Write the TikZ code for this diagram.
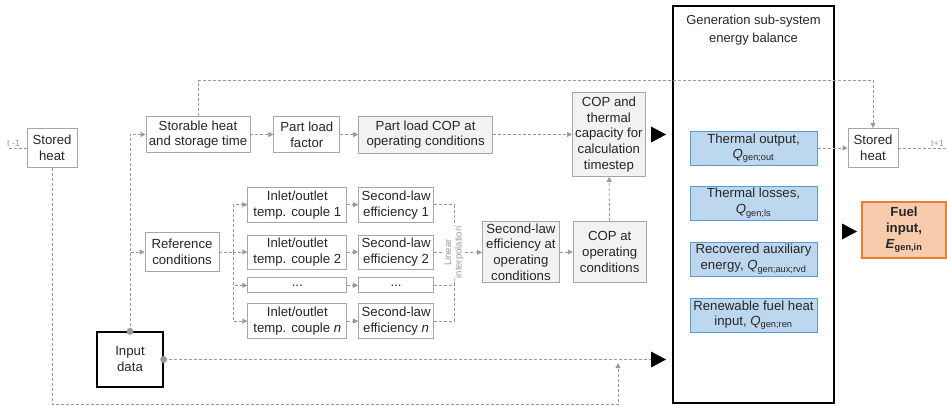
\documentclass[tikz,border=0pt]{standalone}
\usepackage{fontspec}
\setmainfont{Liberation Sans}
\usetikzlibrary{arrows.meta,positioning}

\definecolor{lgray}{HTML}{A6A6A6}
\definecolor{boxgray}{HTML}{F2F2F2}
\definecolor{bluefill}{HTML}{BDD7EE}
\definecolor{blueline}{HTML}{5B9BD5}
\definecolor{orfill}{HTML}{F8CBAD}
\definecolor{orline}{HTML}{ED7D31}
\definecolor{flowgray}{HTML}{9A9A9A}

\newcommand{\Qsub}[1]{\textit{Q}\textsubscript{#1}}

\tikzset{
  box/.style={draw=lgray, line width=0.8pt, fill=white, align=center, inner sep=1pt,
    text=black!85, font=\fontsize{13.2}{15.8}\selectfont},
  greybox/.style={box, fill=boxgray},
  bluebox/.style={box, draw=blueline, fill=bluefill, line width=1pt},
  wh/.style 2 args={minimum width=#1, minimum height=#2},
  dline/.style={draw=flowgray, line width=0.8pt, dash pattern=on 3pt off 2pt},
  flow/.style={dline, -{Triangle[length=5pt,width=5pt]}},
  tlabel/.style={font=\fontsize{9}{10}\selectfont, text=flowgray, inner sep=1pt},
}

\begin{document}
\begin{tikzpicture}[x=1pt, y=-1pt, >=Latex]
        \useasboundingbox (0,0) rectangle (947,405);

        % sub-system energy balance
        \node (gen) [draw, line width=1.3pt, wh={161pt}{397pt}] at (753.5,204.5) {};
        \node (gentitle) [below=6pt of gen.north, align=center, text=black!85,
            font=\fontsize{13}{18}\selectfont] {Generation sub-system\\energy balance};
        \node (thout) [bluebox, wh={127pt}{34pt}] at (753.5,148) {Thermal output,\\\Qsub{gen;out}};
        \node (thls) [bluebox, wh={127pt}{34pt}, below=20pt of thout] {Thermal losses,\\\Qsub{gen;ls}};
        \node (rvd) [bluebox, wh={127pt}{34pt}, below=21pt of thls] {Recovered auxiliary\\energy, \Qsub{gen;aux;rvd}};
        \node (ren) [bluebox, wh={127pt}{34pt}, below=21pt of rvd] {Renewable fuel heat\\input, \Qsub{gen;ren}};

        % first row
        \node (storedL) [box, wh={50pt}{39pt}] at (52,148) {Stored\\heat};
        \node (storable) [box, wh={104pt}{36pt}] at (198,134.5) {Storable heat\\and storage time};
        \node (plf) [box, wh={66pt}{36pt}, right=23pt of storable] {Part load\\factor};
        \node (plcop) [greybox, wh={134pt}{37pt}, right=18pt of plf] {Part load COP at\\operating conditions};
        \node (copt) [greybox, wh={73pt}{84pt}, right=79pt of plcop] {COP and\\thermal\\capacity for\\calculation\\timestep};

        % temperature couples
        \node (ref) [box, wh={74pt}{39pt}] at (182,252) {Reference\\conditions};
        \node (in2) [box, wh={99pt}{34pt}, right=28pt of ref] {Inlet/outlet\\temp. couple 2};
        \node (in1) [box, wh={99pt}{35pt}, above=12pt of in2] {Inlet/outlet\\temp. couple 1};
        \node (indots) [box, wh={99pt}{15pt}, below=8pt of in2] {...};
        \node (inn) [box, wh={99pt}{35pt}, below=10pt of indots] {Inlet/outlet\\temp. couple \textit{n}};
        \node (sl1) [box, wh={75pt}{35pt}, right=11pt of in1] {Second-law\\efficiency 1};
        \node (sl2) [box, wh={75pt}{34pt}, right=11pt of in2] {Second-law\\efficiency 2};
        \node (sldots) [box, wh={75pt}{15pt}, right=11pt of indots] {...};
        \node (sln) [box, wh={75pt}{35pt}, right=11pt of inn] {Second-law\\efficiency \textit{n}};
        \node (slop) [greybox, wh={77pt}{61pt}, right=48pt of sl2] {Second-law\\efficiency at\\operating\\conditions};
        \node (copop) [greybox, wh={73pt}{61pt}, right=13pt of slop] {COP at\\operating\\conditions};

        \node (inp) [draw, line width=1.3pt, align=center, wh={66pt}{55pt}, text=black!85,
            font=\fontsize{13.2}{16}\selectfont] at (130,359.5) {Input\\data};
        \node (storedR) [box, wh={50pt}{39pt}] at (873,148) {Stored\\heat};
        \node (fuel) [box, draw=orline, fill=orfill, line width=1.2pt, wh={84pt}{56pt},
            font=\fontsize{13.2}{15.8}\selectfont\bfseries] at (904,230) {Fuel\\input,\\\textit{E}\textsubscript{gen,in}};

        % calculation chain
        \draw[flow] (storable) -- (plf);
        \draw[flow] (plf) -- (plcop);
        \draw[flow] (plcop) -- (copt);
        \draw[flow] (slop) -- (copop);
        \draw[flow] (copop) -- (copt);

        % reference conditions to each couple
        \draw[dline] (ref.east) -- ++(14,0) coordinate (fan);
        \foreach \n in {1,2,dots,n} \draw[flow] (fan) |- (in\n.west);
        \foreach \n in {1,2,dots,n} \draw[flow] (in\n) -- (sl\n);

        % linear interpolation
        \coordinate (lin) at (454,252.5);
        \foreach \n in {1,dots,n} \draw[dline] (sl\n.east) -| (lin);
        \draw[dline] (sl2.east) -- (sl2.east -| lin);
        \node (interp) [fill=white, rotate=90, align=center, text=flowgray, inner sep=1pt,
            font=\fontsize{9.5}{10.5}\selectfont] at (lin) {Linear\\interpolation};
        \draw[flow] (interp) -- (slop);

        % input data
        \coordinate (tipB) at (651,359.5);
        \coordinate (joinB) at (618,363);
        \draw[flow] (inp.north) |- (storable.west);
        \draw[flow] (inp.north) |- (ref.west);
        \draw[dline] (inp.east) -- (tipB);
        \draw[flow] (storedL.south) -- ++(0,236.5) -| (joinB);
        \fill[flowgray] (inp.north) circle (3.5pt) (inp.east) circle (3.5pt);

        % storage between timesteps
        \draw[dline] (storedL.west) -- ++(-20,0) node[tlabel, pos=0.65, above] {t -1};
        \draw[flow] (storable.north) -- ++(0,-35.5) -| (storedR.north);
        \draw[flow] (thout) -- (storedR);
        \draw[dline] (storedR.east) -- ++(49,0) node[tlabel, pos=0.8, above] {t+1};

        % big arrow heads
        \coordinate (tipA) at (651,134.5);
        \coordinate (tipC) at (842,231.5);
        \foreach \c in {tipA,tipB,tipC} \fill (\c) ++(0,-8) -- ++(15,8) -- ++(-15,8) -- cycle;
\end{tikzpicture}
\end{document}
